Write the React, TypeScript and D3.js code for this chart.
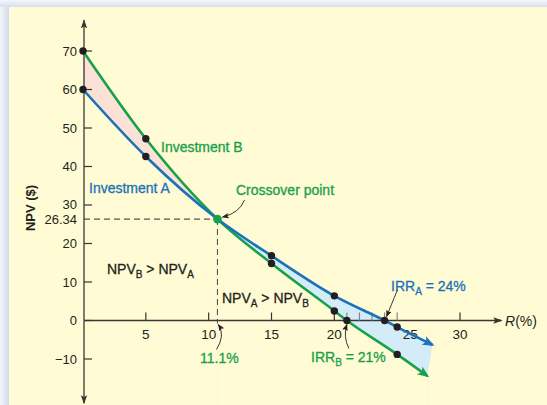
import React from "react";
import * as d3 from "d3";

// NPV profiles
const ratesA = [0, 5, 10.7, 15, 20, 24, 25, 27.8];
const npvA = [60, 42.6, 26.34, 16.8, 6.4, 0, -1.7, -6.3];
const dotsA = [true, true, false, true, true, true, true, false];

const ratesB = [0, 5, 10.7, 15, 20, 21, 25, 27.4];
const npvB = [70, 47.2, 26.34, 14.8, 2.5, 0, -8.8, -14.4];
const dotsB = [true, true, false, true, true, true, true, false];

const crossRate = 10.7;
const crossNpv = 26.34;

const yTicks = [70, 60, 50, 40, 30, 20, 10, 0, -10];
const xMajor = [5, 10, 15, 20, 30];
const xMinor = [21, 22, 23, 24, 25];

const W = 547;
const H = 405;
const BLUE = "#1b72b8";
const GREEN = "#19a04b";
const INK = "#231f20";
const PANEL = "#fffbd4";
const FONT = "'Liberation Sans', Arial, sans-serif";

const x = d3.scaleLinear().domain([0, 30]).range([83, 460]);
const y = d3.scaleLinear().domain([-10, 70]).range([359, 51]);

const toPts = (r: number[], v: number[]) => r.map((d, i) => [x(d), y(v[i])] as [number, number]);

const line = d3.line().curve(d3.curveMonotoneX);

export default function App() {
  const ptsA = toPts(ratesA, npvA);
  const ptsB = toPts(ratesB, npvB);
  const lastA = ptsA[ptsA.length - 1];
  const lastB = ptsB[ptsB.length - 1];
  const cx = x(crossRate);
  const cy = y(crossNpv);
  const x0 = x(0);
  const y0 = y(0);
  // regions under each curve (used to build the band between them)
  const underA = line(ptsA)! + `L${lastB[0]},${lastB[1]}L${lastB[0]},${H}L${x0},${H}Z`;
  const underB = line(ptsB)! + `L${lastB[0]},${H}L${x0},${H}Z`;
  const underA0 = line(ptsA)! + `L${lastA[0]},${H}L${x0},${H}Z`;

  const lbl = (color: string) => ({ fill: color, stroke: color, strokeWidth: 0.3 });
  const subText = (pre: string, a: string, mid: string, b: string) => (
    <>
      {pre}
      <tspan dy={4} fontSize={10}>{a}</tspan>
      <tspan dy={-4}>{mid}</tspan>
      {b ? <tspan dy={4} fontSize={10}>{b}</tspan> : null}
    </>
  );

  return (
    <div style={{ position: "absolute", left: 0, top: 0 }}>
      <svg width={W} height={H} style={{ display: "block" }} fontFamily={FONT}>
        <defs>
          <linearGradient id="edgeL" x1="0" x2="1" y1="0" y2="0">
            <stop offset="0" stopColor="#f4f7fa" />
            <stop offset="1" stopColor="#cfdcea" />
          </linearGradient>
          <linearGradient id="edgeT" x1="0" x2="0" y1="0" y2="1">
            <stop offset="0" stopColor="#f4f7fa" />
            <stop offset="1" stopColor="#d3e0ec" />
          </linearGradient>
          <clipPath id="leftSide">
            <rect x={0} y={0} width={cx} height={H} />
          </clipPath>
          <clipPath id="rightSide">
            <rect x={cx} y={0} width={W - cx} height={H} />
          </clipPath>
          <marker id="headBlue" viewBox="0 0 10 10" refX="8" refY="5" markerWidth="12" markerHeight="12" markerUnits="userSpaceOnUse" orient="auto">
            <path d="M0,1L10,5L0,9L2.5,5Z" fill={BLUE} />
          </marker>
          <marker id="headGreen" viewBox="0 0 10 10" refX="8" refY="5" markerWidth="12" markerHeight="12" markerUnits="userSpaceOnUse" orient="auto">
            <path d="M0,1L10,5L0,9L2.5,5Z" fill={GREEN} />
          </marker>
          <marker id="headInk" viewBox="0 0 10 10" refX="9" refY="5" markerWidth="7" markerHeight="7" markerUnits="userSpaceOnUse" orient="auto">
            <path d="M0,1L10,5L0,9L2,5Z" fill={INK} />
          </marker>
          <marker id="headAxis" viewBox="0 0 10 10" refX="9" refY="5" markerWidth="9" markerHeight="9" markerUnits="userSpaceOnUse" orient="auto">
            <path d="M0,1.5L10,5L0,8.5L2,5Z" fill="#3b3534" />
          </marker>
        </defs>

        {/* frame */}
        <rect x={0} y={0} width={W} height={H} fill="#e4ecf3" />
        <rect x={0} y={0} width={9} height={H} fill="url(#edgeL)" />
        <rect x={0} y={0} width={W} height={7} fill="url(#edgeT)" />
        <rect x={9} y={7} width={W - 9} height={H - 7} fill={PANEL} />

        {/* shaded areas between curves */}
        <g clipPath="url(#leftSide)">
          <path d={underB} fill="#fbe1d6" />
          <path d={underA0} fill={PANEL} />
        </g>
        <g clipPath="url(#rightSide)">
          <path d={underA} fill="#d3ecf8" />
          <path d={underB} fill={PANEL} />
        </g>

        {/* dashed guides */}
        <line x1={x0 + 1} x2={cx} y1={cy} y2={cy} stroke="#555" strokeWidth={1.1} strokeDasharray="6,4" />
        <line x1={cx} x2={cx} y1={cy} y2={y0 + 3} stroke="#555" strokeWidth={1.1} strokeDasharray="6,4" />

        {/* axes */}
        <line x1={x0 + 1} x2={x0 + 1} y1={y0} y2={y(78)} stroke="#3b3534" strokeWidth={1.3} markerEnd="url(#headAxis)" />
        <line x1={x0 + 1} x2={x0 + 1} y1={y0} y2={y(-21.5)} stroke="#3b3534" strokeWidth={1.3} markerEnd="url(#headAxis)" />
        <line x1={x0 + 1} x2={x(33.3)} y1={y0} y2={y0} stroke="#3b3534" strokeWidth={1.3} markerEnd="url(#headAxis)" />
        {yTicks.map((t) => (
          <g key={t}>
            <line x1={x0 + 1} x2={x0 + 9} y1={y(t)} y2={y(t)} stroke="#3b3534" strokeWidth={1.2} />
            <text x={x0 - 6} y={y(t) + (t === 30 ? 3.5 : 4.5)} textAnchor="end" fontSize={13} fill={INK}>
              {t < 0 ? "\u2212" + Math.abs(t) : t}
            </text>
          </g>
        ))}
        <text x={x0 - 6} y={cy + 5} textAnchor="end" fontSize={13} fill={INK}>26.34</text>
        {xMinor.map((t) => (
          <line key={t} x1={x(t)} x2={x(t)} y1={y0} y2={y0 - 8} stroke="#8a8480" strokeWidth={1.2} />
        ))}
        {xMajor.map((t) => (
          <line key={t} x1={x(t)} x2={x(t)} y1={y0} y2={y0 - 8} stroke="#3b3534" strokeWidth={1.2} />
        ))}
        {[5, 10, 15, 20, 25, 30].map((t) => (
          <text key={t} x={x(t) + (t === 25 ? 13 : 0)} y={y0 + 18} textAnchor="middle" fontSize={13.5} fill={INK}>
            {t}
          </text>
        ))}
        <text x={505} y={y0 + 5} fontSize={14} fill={INK}>
          <tspan fontStyle="italic">R</tspan>(%)
        </text>
        <text transform={`translate(35,208) rotate(-90)`} textAnchor="middle" fontSize={13} fontWeight="bold" fill={INK}>
          NPV ($)
        </text>

        {/* curves */}
        <path d={line(ptsB)!} fill="none" stroke={GREEN} strokeWidth={2.6} markerEnd="url(#headGreen)" />
        <path d={line(ptsA)!} fill="none" stroke={BLUE} strokeWidth={2.6} markerEnd="url(#headBlue)" />
        {ptsA.filter((_, i) => dotsA[i]).map((p, i) => (
          <circle key={"a" + i} cx={p[0]} cy={p[1]} r={3.7} fill={INK} />
        ))}
        {ptsB.filter((_, i) => dotsB[i]).map((p, i) => (
          <circle key={"b" + i} cx={p[0]} cy={p[1]} r={3.7} fill={INK} />
        ))}
        <circle cx={cx} cy={cy} r={4.3} fill={GREEN} />

        {/* annotation arrows */}
        <path d={`M${cx + 27},${cy - 19}Q${cx + 22},${cy - 6} ${cx + 5},${cy - 2}`} fill="none" stroke={INK} strokeWidth={0.9} markerEnd="url(#headInk)" />
        <path d={`M${cx - 1},${y0 + 29}Q${cx + 8},${y0 + 15} ${cx + 1},${y0 + 4}`} fill="none" stroke={INK} strokeWidth={0.9} markerEnd="url(#headInk)" />
        <path d={`M${x(24) + 13},${y0 - 31}Q${x(24) + 6},${y0 - 14} ${x(24) + 2},${y0 - 4}`} fill="none" stroke={INK} strokeWidth={0.9} markerEnd="url(#headInk)" />
        <path d={`M${x(21) + 2},${y0 + 28}Q${x(21) - 4},${y0 + 16} ${x(21)},${y0 + 4}`} fill="none" stroke={INK} strokeWidth={0.9} markerEnd="url(#headInk)" />

        {/* labels */}
        <text x={161} y={152} fontSize={14} {...lbl(GREEN)}>Investment B</text>
        <text x={89} y={193} fontSize={14} {...lbl(BLUE)}>Investment A</text>
        <text x={236} y={195} fontSize={14} {...lbl(GREEN)}>Crossover point</text>
        <text x={107} y={274} fontSize={14} {...lbl(INK)}>
          {subText("NPV", "B", " > NPV", "A")}
        </text>
        <text x={222} y={303} fontSize={14} {...lbl(INK)}>
          {subText("NPV", "A", " > NPV", "B")}
        </text>
        <text x={200} y={363} fontSize={14} {...lbl(GREEN)}>11.1%</text>
        <text x={391} y={291} fontSize={14} {...lbl(BLUE)}>
          {subText("IRR", "A", " = 24%", "")}
        </text>
        <text x={311} y={362} fontSize={14} {...lbl(GREEN)}>
          {subText("IRR", "B", " = 21%", "")}
        </text>
      </svg>
    </div>
  );
}
